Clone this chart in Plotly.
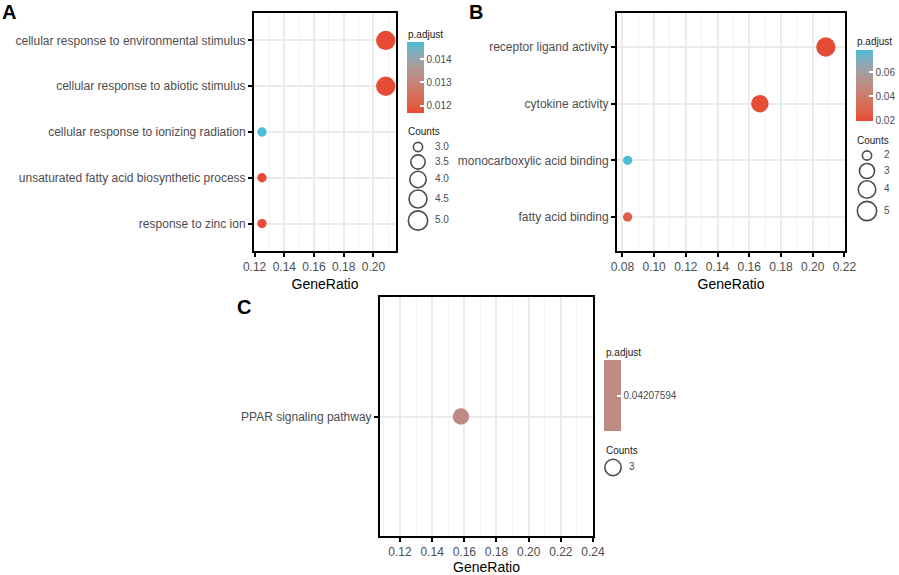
import plotly.graph_objects as go

# ---------------- data ----------------
a_terms = ["cellular response to environmental stimulus",
           "cellular response to abiotic stimulus",
           "cellular response to ionizing radiation",
           "unsaturated fatty acid biosynthetic process",
           "response to zinc ion"]
a_ratio = [0.2083, 0.2083, 0.125, 0.125, 0.125]
a_counts = [5, 5, 3, 3, 3]
a_padj = [0.01168, 0.01168, 0.01474, 0.01168, 0.01168]
a_xticks = [0.12, 0.14, 0.16, 0.18, 0.20]
a_cbticks = [0.012, 0.013, 0.014]
a_size_legend = [3.0, 3.5, 4.0, 4.5, 5.0]

b_terms = ["receptor ligand activity", "cytokine activity",
           "monocarboxylic acid binding", "fatty acid binding"]
b_ratio = [0.2083, 0.1667, 0.0833, 0.0833]
b_counts = [5, 4, 2, 2]
b_padj = [0.0197, 0.0199, 0.0782, 0.027]
b_xticks = [0.08, 0.10, 0.12, 0.14, 0.16, 0.18, 0.20, 0.22]
b_cbticks = [0.02, 0.04, 0.06]
b_size_legend = [2, 3, 4, 5]

c_terms = ["PPAR signaling pathway"]
c_ratio = [0.1579]
c_counts = [3]
c_padj = [0.04207594]
c_xticks = [0.12, 0.14, 0.16, 0.18, 0.20, 0.22, 0.24]
c_size_legend = [3]

# ---------------- helpers ----------------
W, H = 899, 575
FONT = "Liberation Sans, Arial, sans-serif"
LOW, HIGH = (230, 75, 53), (77, 187, 213)


def px(x):
    return x / W


def py(y):
    return 1 - y / H


def _lin(c):
    c = c / 255
    return ((c + 0.055) / 1.055) ** 2.4 if c > 0.04045 else c / 12.92


def _gam(c):
    c = max(0.0, min(1.0, c))
    v = 1.055 * c ** (1 / 2.4) - 0.055 if c > 0.0031308 else 12.92 * c
    return int(round(max(0, min(1, v)) * 255))


def rgb2lab(rgb):
    r, g, b = [_lin(v) for v in rgb]
    X = (0.4124 * r + 0.3576 * g + 0.1805 * b) / 0.95047
    Y = 0.2126 * r + 0.7152 * g + 0.0722 * b
    Z = (0.0193 * r + 0.1192 * g + 0.9505 * b) / 1.08883
    f = lambda t: t ** (1 / 3) if t > 0.008856 else 7.787 * t + 16 / 116
    fx, fy, fz = f(X), f(Y), f(Z)
    return 116 * fy - 16, 500 * (fx - fy), 200 * (fy - fz)


def lab2rgb(lab):
    L, a, b = lab
    fy = (L + 16) / 116
    fx = fy + a / 500
    fz = fy - b / 200
    fi = lambda t: t ** 3 if t ** 3 > 0.008856 else (t - 16 / 116) / 7.787
    X, Y, Z = fi(fx) * 0.95047, fi(fy), fi(fz) * 1.08883
    r = 3.2406 * X - 1.5372 * Y - 0.4986 * Z
    g = -0.9689 * X + 1.8758 * Y + 0.0415 * Z
    bb = 0.0557 * X - 0.2040 * Y + 1.0570 * Z
    return "rgb(%d,%d,%d)" % (_gam(r), _gam(g), _gam(bb))


l0, l1 = rgb2lab(LOW), rgb2lab(HIGH)
SCALE = []
for i in range(11):
    t = i / 10
    SCALE.append([t, lab2rgb(tuple(l0[k] + (l1[k] - l0[k]) * t for k in range(3)))])
MID = lab2rgb(tuple((l0[k] + l1[k]) / 2 for k in range(3)))


def diam(counts, c):
    lo, hi = min(counts), max(counts)
    t = 0.5 if hi == lo else (c - lo) / (hi - lo)
    return 3.3 + 2 * (3 + 5 * t ** 0.5)


fig = go.Figure()

panels = [
    (a_terms, a_ratio, a_counts, a_padj, (254, 396), (13, 251), [0.1196, 0.2152], a_xticks, "", "coloraxis"),
    (b_terms, b_ratio, b_counts, b_padj, (617, 845), (13, 251), [0.0766, 0.2204], b_xticks, "2", "coloraxis2"),
    (c_terms, c_ratio, c_counts, c_padj, (380, 593), (297, 536), [0.1076, 0.2400], c_xticks, "3", "coloraxis3"),
]

for terms, ratio, counts, padj, xd, yd, xr, xt, sfx, cax in panels:
    fig.add_trace(go.Scatter(
        x=ratio, y=terms, mode="markers",
        xaxis="x" + sfx, yaxis="y" + sfx,
        marker=dict(size=[diam(counts, c) for c in counts], color=padj,
                    coloraxis=cax, line=dict(width=0), opacity=1),
        showlegend=False, hoverinfo="x+y",
    ))
    n = len(terms)
    common = dict(showline=True, mirror=True, linecolor="black", linewidth=2,
                  ticks="outside", ticklen=4, tickwidth=2, tickcolor="black",
                  showgrid=True, gridcolor="#EBEBEB", gridwidth=2, zeroline=False,
                  tickfont=dict(family=FONT, size=12, color="#4D4D4D"))
    fig.update_layout(**{
        "xaxis" + sfx: dict(common, domain=[px(xd[0]), px(xd[1])], range=xr,
                            anchor="y" + sfx, tickvals=xt, tickformat=".2f",
                            minor=dict(dtick=0.01, tick0=0, showgrid=True,
                                       gridcolor="#F2F2F2", gridwidth=1, ticks=""),
                            title=dict(text="GeneRatio", standoff=6,
                                       font=dict(family=FONT, size=14, color="black"))),
        "yaxis" + sfx: dict(common, domain=[py(yd[1]), py(yd[0])], anchor="x" + sfx,
                            type="category", categoryorder="array", categoryarray=terms,
                            range=[n - 1 + 0.6, -0.6]),
    })

cb_common = dict(thickness=17, thicknessmode="pixels", len=71, lenmode="pixels",
                 xanchor="left", yanchor="top", xpad=0, ypad=0, outlinewidth=0,
                 ticks="inside", ticklen=4, tickwidth=1.5, tickcolor="white",
                 tickfont=dict(family=FONT, size=10, color="#4D4D4D"))
fig.update_layout(
    coloraxis=dict(cmin=min(a_padj), cmax=max(a_padj), colorscale=SCALE,
                   colorbar=dict(cb_common, x=px(407), y=py(42), tickvals=a_cbticks,
                                 tickformat=".3f")),
    coloraxis2=dict(cmin=min(b_padj), cmax=max(b_padj), colorscale=SCALE,
                    colorbar=dict(cb_common, x=px(856), y=py(50), tickvals=b_cbticks,
                                  tickformat=".2f")),
    coloraxis3=dict(cmin=c_padj[0] * 0.99, cmax=c_padj[0] * 1.01,
                    colorscale=[[0, MID], [1, MID]],
                    colorbar=dict(cb_common, x=px(604), y=py(360), tickvals=c_padj,
                                  ticktext=[str(v) for v in c_padj])),
)

# size legends on a transparent overlay pixel axis
fig.update_layout(
    xaxis4=dict(domain=[0, 1], range=[0, W], visible=False, fixedrange=True, anchor="y4"),
    yaxis4=dict(domain=[0, 1], range=[H, 0], visible=False, fixedrange=True, anchor="x4"),
)
legends = [
    (a_size_legend, 418, 435, [147, 162, 179.5, 199, 220.5], "%.1f"),
    (b_size_legend, 867, 884, [155.5, 171, 189.5, 211], "%d"),
    (c_size_legend, 613, 629, [467.5], "%d"),
]
for vals, kx, lx, ys, fmt in legends:
    fig.add_trace(go.Scatter(
        x=[kx] * len(vals), y=ys, xaxis="x4", yaxis="y4", mode="markers",
        marker=dict(symbol="circle-open", size=[diam(vals, v) for v in vals],
                    color="black", line=dict(width=1.6)),
        showlegend=False, hoverinfo="skip", cliponaxis=False))
    fig.add_trace(go.Scatter(
        x=[lx] * len(vals), y=ys, xaxis="x4", yaxis="y4", mode="text",
        text=[fmt % v for v in vals], textposition="middle right",
        textfont=dict(family=FONT, size=10, color="#4D4D4D"),
        showlegend=False, hoverinfo="skip", cliponaxis=False))

ann = []
for txt, x, y in [("p.adjust", 406, 34), ("Counts", 406, 132),
                  ("p.adjust", 855, 42), ("Counts", 855, 140),
                  ("p.adjust", 604, 352), ("Counts", 604, 450)]:
    ann.append(dict(text=txt, x=px(x), y=py(y), xref="paper", yref="paper",
                    xanchor="left", yanchor="middle", showarrow=False,
                    font=dict(family=FONT, size=10, color="#222222")))
for txt, x, y in [("A", 0, -1), ("B", 467, -1), ("C", 235, 294)]:
    ann.append(dict(text="<b>%s</b>" % txt, x=px(x), y=py(y), xref="paper", yref="paper",
                    xanchor="left", yanchor="top", showarrow=False,
                    font=dict(family=FONT, size=20, color="black")))

fig.update_layout(width=W, height=H,
                  margin=dict(l=0, r=0, t=0, b=0, pad=0, autoexpand=False),
                  paper_bgcolor="white", plot_bgcolor="rgba(0,0,0,0)",
                  annotations=ann, showlegend=False,
                  font=dict(family=FONT))

fig.write_html("out.html", config={"displayModeBar": False},
               post_script="document.body.style.margin='0';document.body.style.overflow='hidden';")
